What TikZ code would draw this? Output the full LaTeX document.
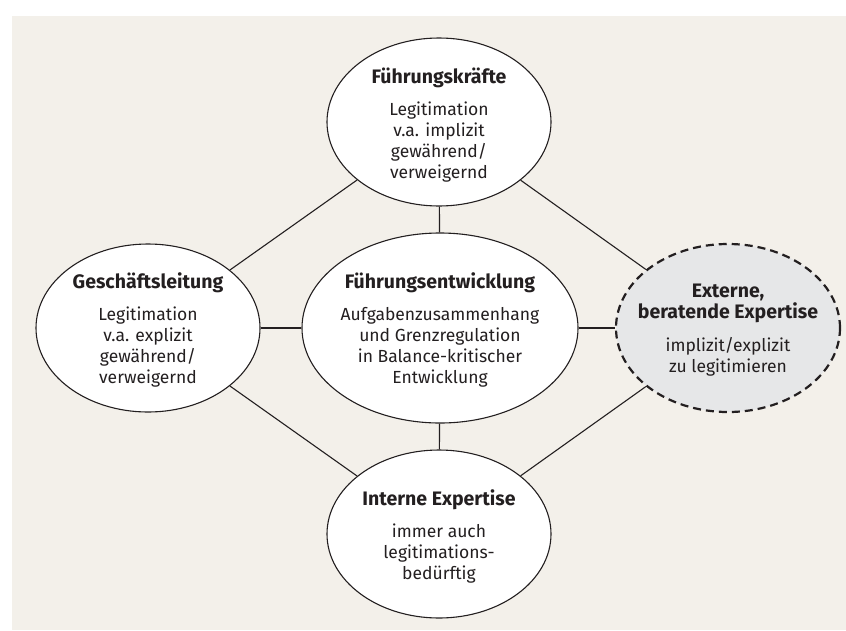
\documentclass[tikz,border=0pt]{standalone}
\usepackage{fontspec}
\setmainfont{Fira Sans}
\usetikzlibrary{shapes.geometric}
\definecolor{panel}{HTML}{F3F0EA}
\definecolor{extfill}{HTML}{E6E7E8}
\definecolor{ink}{HTML}{231F20}
\newcommand{\hd}[1]{{\fontsize{19.5}{21}\selectfont\bfseries #1}}
\begin{document}
\begin{tikzpicture}[x=1pt,y=-1pt,
  oval/.style={ellipse, draw=ink, line width=1.1pt, fill=white,
    minimum width=224pt, minimum height=168pt, inner sep=0pt},
  core/.style={oval, minimum width=276pt, minimum height=190pt},
  extern/.style={oval, fill=extfill, line width=2.2pt, dash pattern=on 8pt off 5pt},
  txt/.style={align=center, text=ink, inner sep=0pt,
    font=\fontsize{17.5}{21}\selectfont},
  link/.style={draw=ink, line width=1.1pt}]
\useasboundingbox (0,0) rectangle (846,630);
\fill[panel] (12,16) rectangle (846,630);

% ellipses
\node[oval]   (fk)  at (439,122) {};
\node[oval]   (gl)  at (148,328) {};
\node[core]   (fe)  at (440,328) {};
\node[extern] (ext) at (728,328) {};
\node[oval]   (ie)  at (439,534) {};

% connections
\draw[link] (fk) -- (gl);
\draw[link] (fk) -- (ext);
\draw[link] (ie) -- (gl);
\draw[link] (ie) -- (ext);
\draw[link] (fe) -- (fk);
\draw[link] (fe) -- (ie);
\draw[link] (fe) -- (gl);
\draw[link] (fe) -- (ext);

% texts
\node[txt] (fk-t) at (439,125) {\hd{Führungskräfte}\\[11pt]
  Legitimation\\ v.a. implizit\\ gewährend/\\ verweigernd};
\node[txt] (gl-t) at (148,330) {\hd{Geschäftsleitung}\\[11pt]
  Legitimation\\ v.a. explizit\\ gewährend/\\ verweigernd};
\node[txt] (fe-t) at (440,330) {\hd{Führungsentwicklung}\\[11pt]
  Aufgabenzusammenhang\\ und Grenzregulation\\ in Balance-kritischer\\ Entwicklung};
\node[txt] (ext-t) at (728,330) {\hd{Externe,}\\ \hd{beratende Expertise}\\[12pt]
  implizit/explizit\\ zu legitimieren};
\node[txt] (ie-t) at (439,536) {\hd{Interne Expertise}\\[11pt]
  immer auch\\ legitimations-\\ bedürftig};
\end{tikzpicture}
\end{document}
